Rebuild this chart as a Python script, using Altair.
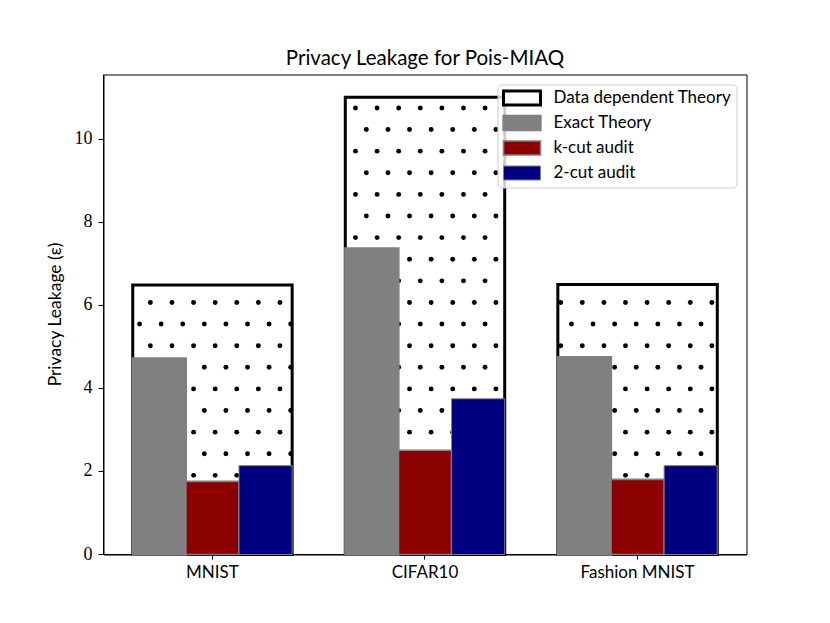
import altair as alt
import pandas as pd

# ---- data ----
categories = ["MNIST", "CIFAR10", "Fashion MNIST"]
series_names = ["Data dependent Theory", "Exact Theory", "k-cut audit", "2-cut audit"]
data_dependent = [6.49, 11.01, 6.50]
exact_theory = [4.72, 7.37, 4.75]
kcut_audit = [1.76, 2.51, 1.81]
twocut_audit = [2.14, 3.75, 2.14]
y_ticks = [0, 2, 4, 6, 8, 10]

series_values = [data_dependent, exact_theory, kcut_audit, twocut_audit]
rows = []
for r, (name, vals) in enumerate(zip(series_names, series_values)):
    for i, (cat, v) in enumerate(zip(categories, vals)):
        rows.append({"category": cat, "idx": i, "series": name, "rank": r, "value": v})
df = pd.DataFrame(rows)

fill_colors = ["white", "#808080", "#8b0000", "#000080"]
stroke_colors = ["black", "#808080", "#808080", "#808080"]
stroke_widths = [3, 1, 1.2, 1.2]

SANS = "Lato"
SERIF = "Liberation Serif"

x_scale = alt.Scale(domain=[-0.5125, 2.5125], nice=False, zero=False)
y_scale = alt.Scale(domain=[0, 11.56], nice=False)

label_expr = "[" + ",".join("'%s'" % c for c in categories) + "][datum.value]"
x_axis = alt.Axis(values=[0, 1, 2], labelExpr=label_expr, title=None, grid=False,
                  labelFont=SANS, labelFontSize=17, labelColor="black",
                  tickColor="black", domainColor="black", tickSize=5, labelPadding=5,
                  translate=0)
y_axis = alt.Axis(values=y_ticks, title="Privacy Leakage (ε)", grid=False,
                  labelFont=SERIF, labelFontSize=18, labelColor="black",
                  titleFont=SANS, titleFontSize=17.5, titleFontWeight="normal",
                  titleColor="black", titlePadding=10,
                  tickColor="black", domainColor="black", tickSize=5, labelPadding=6,
                  translate=0)


def xenc(field="x0"):
    return alt.X(f"{field}:Q", scale=x_scale, axis=x_axis)


def yenc(field="value"):
    return alt.Y(f"{field}:Q", scale=y_scale, axis=y_axis)


legend = alt.Legend(title=None, orient="none", legendX=394, legendY=10,
                    symbolType="M-2.64,-1H2.64V1H-2.64Z", symbolSize=196,
                    symbolOffset=11,
                    labelFont=SANS, labelFontSize=17, labelColor="black", labelLimit=400,
                    fillColor="rgba(255,255,255,0.8)", strokeColor="#cccccc",
                    cornerRadius=4, padding=5, labelOffset=23, rowPadding=-1,
                    gridAlign="all")

series_scale_fill = alt.Scale(domain=series_names, range=fill_colors)
series_scale_stroke = alt.Scale(domain=series_names, range=stroke_colors)
series_scale_sw = alt.Scale(domain=series_names, range=stroke_widths)

base = alt.Chart(df).transform_calculate(
    x0="datum.rank == 0 ? datum.idx - 0.375 : datum.idx - 0.375 + (datum.rank - 1) * 0.25",
    x1="datum.rank == 0 ? datum.idx + 0.375 : datum.idx - 0.125 + (datum.rank - 1) * 0.25",
)

enc_series = dict(
    fill=alt.Fill("series:N", scale=series_scale_fill, legend=legend),
    stroke=alt.Stroke("series:N", scale=series_scale_stroke, legend=legend),
    strokeWidth=alt.StrokeWidth("series:N", scale=series_scale_sw, legend=legend),
)

ddt_fill = base.transform_filter("datum.rank == 0").mark_bar(strokeOpacity=0).encode(
    x=xenc(), x2="x1:Q", y=yenc(), y2=alt.datum(0), **enc_series
)

# dot hatch pattern inside the data dependent theory bars
dots = alt.Chart(df).transform_filter("datum.rank == 0").transform_calculate(
    k="sequence(-10, 14)"
).transform_flatten(["k"]).transform_calculate(
    j="sequence(0, 31)"
).transform_flatten(["j"]).transform_calculate(
    dotY="6.07 - datum.k * 0.5205",
    x0="(abs(datum.k) % 2 == 0 ? -0.292 : -0.343) + datum.j * 0.1016",
).transform_filter(
    "datum.x0 > datum.idx - 0.372 && datum.x0 < datum.idx + 0.372 && datum.dotY > 0.04 && datum.dotY < datum.value - 0.05"
).mark_circle(size=24, color="black", opacity=1).encode(x=xenc(), y=yenc("dotY"))

ddt_edge = base.transform_filter("datum.rank == 0").mark_bar(
    fillOpacity=0, stroke="black", strokeWidth=3
).encode(x=xenc(), x2="x1:Q", y=yenc(), y2=alt.datum(0))

others = base.transform_filter("datum.rank > 0").mark_bar().encode(
    x=xenc(), x2="x1:Q", y=yenc(), y2=alt.datum(0), **enc_series
)

chart = alt.layer(ddt_fill, dots, ddt_edge, others).properties(
    width=643, height=480,
    background="white",
    title=alt.TitleParams("Privacy Leakage for Pois-MIAQ", font=SANS, fontSize=20.5,
                          fontWeight="normal", color="black", offset=5),
    autosize=alt.AutoSizeParams(type="none"),
    padding={"left": 95.5, "top": 66.5, "right": 70, "bottom": 60},
).configure_view(stroke="black", strokeWidth=1)

chart.save("out.html", embed_options={"renderer": "svg", "actions": False})
